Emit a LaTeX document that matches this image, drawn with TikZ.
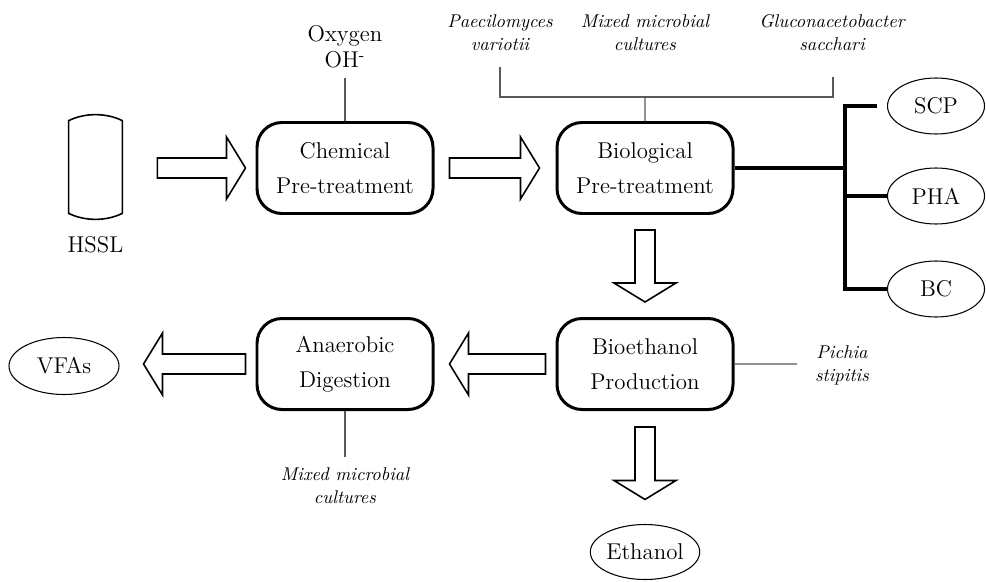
\documentclass[tikz,border=0pt]{standalone}
\usepackage{tikz}
\usetikzlibrary{calc}
\usetikzlibrary{positioning}
\usetikzlibrary{shapes.geometric}

\newcommand{\blockarrow}[2]{%
  \coordinate (hb) at ($(#2)!3.8mm!(#1)$);
  \draw [arrowline] ($(#1)!2mm!90:(#2)$) -- ($(hb)!2mm!90:(#2)$) -- ($(hb)!6.2mm!90:(#2)$) -- (#2)
    -- ($(hb)!6.2mm!-90:(#2)$) -- ($(hb)!2mm!-90:(#2)$) -- ($(#1)!2mm!-90:(#2)$) -- cycle;}

\begin{document}
\begin{tikzpicture}[x=0.2mm, y=-0.2mm, node distance=60mm, font=\fontsize{13}{20}\selectfont]
	\tikzstyle{process} = [draw, line width=1.7pt, rounded corners=5mm, minimum width=35.2mm, minimum height=18.2mm, align=center];
	\tikzstyle{product} = [draw, ellipse, line width=0.6pt, inner sep=0pt, minimum width=19.4mm, minimum height=11.2mm];
	\tikzstyle{organism} = [font=\fontsize{10.5}{13}\selectfont\itshape, align=center];
	\tikzstyle{feed} = [line width=0.6pt, black!65];
	\tikzstyle{stream} = [line width=2.3pt];
	\tikzstyle{arrowline} = [line width=0.9pt, line join=miter];

	\useasboundingbox (0,0) rectangle (986,581);

	\node [process] (chem) at (345,168)            {Chemical\\Pre-treatment};
	\node [process] (bio) [right of = chem]        {Biological\\Pre-treatment};
	\node [process] (ethprod) [below of = bio, node distance=39.2mm] {Bioethanol\\Production};
	\node [process] (anae) [left of = ethprod]     {Anaerobic\\Digestion};

	\node [minimum width=10.6mm, minimum height=18.4mm, inner sep=0pt] (tank) at (95.5,167) {};
	\draw [arrowline] (tank.north west) .. controls +(3.2mm,1.6mm) and +(-3.2mm,1.6mm) .. (tank.north east)
		-- (tank.south east) .. controls +(-3.2mm,-1.6mm) and +(3.2mm,-1.6mm) .. (tank.south west) -- cycle;
	\node (hssl) [below of = tank, node distance=15.6mm] {HSSL};

	\node [align=center, font=\fontsize{13}{15}\selectfont] (oxy) at (345,47) {Oxygen\\OH\textsuperscript{-}};
	\node [organism] (paec)   at (500,33)  {Paecilomyces\\variotii};
	\node [organism] (mixbio) at (645,33)  {Mixed microbial\\cultures};
	\node [organism] (gluco)  at (832,33)  {Gluconacetobacter\\sacchari};
	\node [organism] (pichia) at (842,365) {Pichia\\stipitis};
	\node [organism] (mixana) at (345,486) {Mixed microbial\\cultures};

	\node [product] (scp) at (936,106) {SCP};
	\node [product] (pha) at (936,196) {PHA};
	\node [product] (bc)  at (936,289) {BC};
	\node [product, minimum width=22mm, minimum height=11.4mm] (vfa) at (64,366) {VFAs};
	\node [product, minimum width=20.4mm, minimum height=11mm] (etoh) at (645,552) {Ethanol};

	\coordinate (oxend)    at (345,78);
	\coordinate (paecend)  at (500,67);
	\coordinate (glucoend) at (833,77);
	\coordinate (split)    at (645,97);
	\coordinate (pichend)  at (797,364);
	\coordinate (anaend)   at (345,457);
	\coordinate (junc)     at (845,168);

	\draw [feed] (oxend) -- (chem.north);
	\draw [feed] (paecend) -- (paecend |- split) -- (glucoend |- split) -- (glucoend);
	\draw [feed] (split) -- (bio.north);
	\draw [feed] (ethprod.east) -- (pichend);
	\draw [feed] (anae.south) -- (anaend);

	\draw [stream] (bio.east) -- (junc);
	\draw [stream] ([xshift=-2mm]scp.west) -| (junc |- bc) -- (bc.west);
	\draw [stream] (junc |- pha) -- (pha.west);

	\coordinate (in1)  at ($(chem.west -| tank.east)+(7mm,0)$);
	\coordinate (out1) at ([xshift=-2mm]chem.west);
	\coordinate (in2)  at ([xshift=3mm]chem.east);
	\coordinate (out2) at ([xshift=-3.2mm]bio.west);
	\coordinate (in3)  at ([yshift=-3mm]bio.south);
	\coordinate (out3) at ([yshift=3mm]ethprod.north);
	\coordinate (in4)  at ([xshift=-2mm]ethprod.west);
	\coordinate (out4) at ([xshift=3mm]anae.east);
	\coordinate (in5)  at ([xshift=-2mm]anae.west);
	\coordinate (out5) at ($(in5 -| vfa.east)+(4.8mm,0)$);
	\coordinate (in6)  at ([yshift=-3.2mm]ethprod.south);
	\coordinate (out6) at ($(in6 |- etoh.north)+(0,4.9mm)$);

	\blockarrow{in1}{out1}
	\blockarrow{in2}{out2}
	\blockarrow{in3}{out3}
	\blockarrow{in4}{out4}
	\blockarrow{in5}{out5}
	\blockarrow{in6}{out6}
\end{tikzpicture}
\end{document}
